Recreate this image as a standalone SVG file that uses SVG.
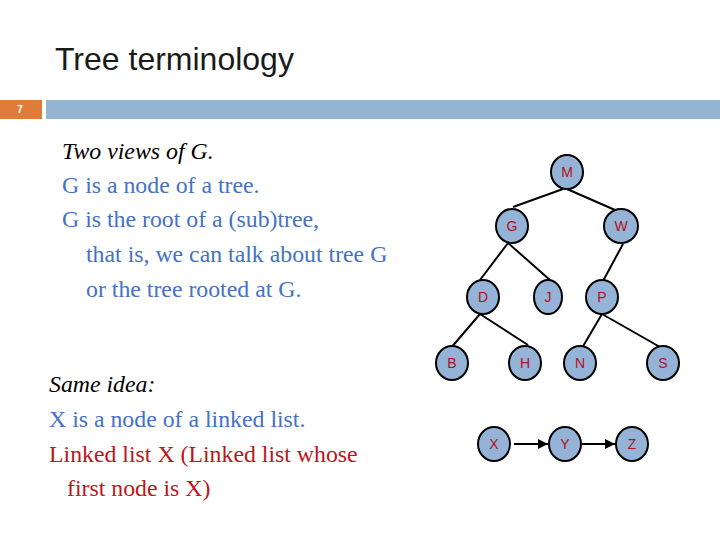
<svg xmlns="http://www.w3.org/2000/svg" width="720" height="540" viewBox="0 0 720 540">
<defs>
<style>
.n{fill:#95b3d7;stroke:#000;stroke-width:2}
.l{font-family:"Liberation Sans",Arial,sans-serif;font-size:14px;fill:#b01020;text-anchor:middle}
.e{stroke:#000;stroke-width:2;fill:none}
.t{font-family:"Liberation Serif","Times New Roman",serif;font-size:23.8px}
.b{fill:#4472c4}.r{fill:#c0141c}
</style>
<marker id="a" viewBox="0 0 10 10" refX="10" refY="5" markerWidth="5" markerHeight="5" orient="auto"><path d="M0,0L10,5L0,10z" fill="#000"/></marker>
</defs>
<rect width="720" height="540" fill="#fff"/>
<text x="55" y="70" font-family="Liberation Sans,Arial,sans-serif" font-size="32" fill="#1a1a1a">Tree terminology</text>
<rect x="0" y="100" width="42" height="19" fill="#e07b39"/>
<rect x="46" y="100" width="674" height="19" fill="#95b3d2"/>
<text x="20" y="113" font-family="Liberation Sans,Arial,sans-serif" font-size="10" font-weight="bold" fill="#fff" text-anchor="middle">7</text>
<text class="t" x="62" y="159" font-style="italic">Two views of G.</text>
<text class="t b" x="62" y="193">G is a node of a tree.</text>
<text class="t b" x="62" y="227">G is the root of a (sub)tree,</text>
<text class="t b" x="86" y="262">that is, we can talk about tree G</text>
<text class="t b" x="86" y="297">or the tree rooted at G.</text>
<text class="t" x="49" y="392" font-style="italic">Same idea:</text>
<text class="t b" x="49" y="427">X is a node of a linked list.</text>
<text class="t r" x="49" y="462">Linked list X (Linked list whose</text>
<text class="t r" x="67" y="496">first node is X)</text>
<g id="connectors">
<line class="e" x1="563" y1="189" x2="513" y2="207"/>
<line class="e" x1="567" y1="189" x2="615" y2="210"/>
<line class="e" x1="508" y1="243" x2="480" y2="280"/>
<line class="e" x1="508" y1="243" x2="550" y2="280"/>
<line class="e" x1="623" y1="244" x2="603" y2="281"/>
<line class="e" x1="480" y1="314" x2="450" y2="349"/>
<line class="e" x1="480" y1="314" x2="528" y2="345"/>
<line class="e" x1="602" y1="314" x2="582" y2="348"/>
<line class="e" x1="602" y1="314" x2="660" y2="347"/>
<line class="e" x1="514" y1="444" x2="548" y2="444" marker-end="url(#a)"/>
<line class="e" x1="582" y1="444" x2="615" y2="444" marker-end="url(#a)"/>
</g>
<g id="M"><ellipse class="n" cx="567" cy="172" rx="16" ry="17"/><text class="l" x="567" y="177">M</text></g>
<g id="G"><ellipse class="n" cx="512" cy="226" rx="16" ry="17"/><text class="l" x="512" y="231">G</text></g>
<g id="W"><ellipse class="n" cx="621" cy="226" rx="17" ry="17"/><text class="l" x="621" y="231">W</text></g>
<g id="D"><ellipse class="n" cx="483" cy="297" rx="16" ry="17"/><text class="l" x="483" y="302">D</text></g>
<g id="J"><ellipse class="n" cx="548" cy="297" rx="14" ry="17"/><text class="l" x="548" y="302">J</text></g>
<g id="P"><ellipse class="n" cx="602" cy="297" rx="16" ry="17"/><text class="l" x="602" y="302">P</text></g>
<g id="B"><ellipse class="n" cx="452" cy="363" rx="16" ry="17"/><text class="l" x="452" y="368">B</text></g>
<g id="H"><ellipse class="n" cx="525" cy="363" rx="16" ry="17"/><text class="l" x="525" y="368">H</text></g>
<g id="N"><ellipse class="n" cx="580" cy="363" rx="16" ry="17"/><text class="l" x="580" y="368">N</text></g>
<g id="S"><ellipse class="n" cx="663" cy="363" rx="16" ry="17"/><text class="l" x="663" y="368">S</text></g>
<g id="X"><ellipse class="n" cx="494" cy="444" rx="16" ry="17"/><text class="l" x="494" y="449">X</text></g>
<g id="Y"><ellipse class="n" cx="565" cy="444" rx="16" ry="17"/><text class="l" x="565" y="449">Y</text></g>
<g id="Z"><ellipse class="n" cx="632" cy="444" rx="16" ry="17"/><text class="l" x="632" y="449">Z</text></g>
</svg>
